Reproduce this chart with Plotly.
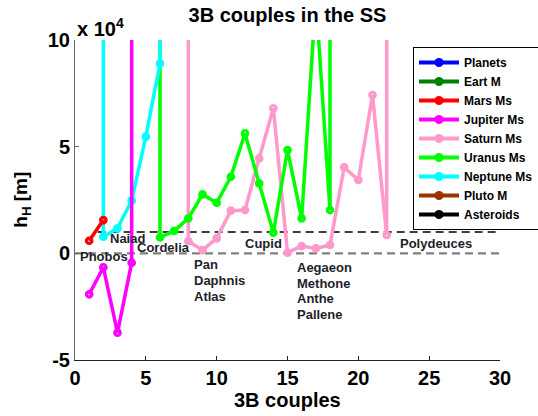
import plotly.graph_objects as go

# h_H values in metres for each three-body couple index; OFF marks couples whose
# h_H is far above the plotted range (the planet-scale entries).
OFF = 1.0e9

mars_x = [1, 2]
mars_h = [5900, 15600]

jupiter_x = [1, 2, 3, 4, 5]
jupiter_h = [-19200, -6600, -37200, -4400, OFF]

saturn_x = [7, 8, 9, 10, 11, 12, 13, 14, 15, 16, 17, 18, 19, 20, 21, 22, 23]
saturn_h = [OFF, 5700, 1500, 7000, 20000, 20300, 44500, 68000, 300, 3400,
            2300, 3900, 40300, 34400, 74200, 8600, OFF]

uranus_x = [5, 6, 7, 8, 9, 10, 11, 12, 13, 14, 15, 16, 17, 18, 19]
uranus_h = [OFF, 7500, 10500, 16400, 27600, 23700, 35900, 56200, 32800,
            9700, 48400, 16400, 120000, 20300, OFF]

neptune_x = [1, 2, 3, 4, 5, 6, 7]
neptune_h = [OFF, 7800, 11700, 24700, 54700, 89000, OFF]

legend_names = ["Planets", "Eart M", "Mars Ms", "Jupiter Ms", "Saturn Ms",
                "Uranus Ms", "Neptune Ms", "Pluto M", "Asteroids"]
legend_colors = ["#0000ff", "#008000", "#ff0000", "#ff00ff", "#ff99cc",
                 "#00ff00", "#00ffff", "#993300", "#000000"]
color_of = dict(zip(legend_names, legend_colors))

threshold_x = [1.6, 30]
threshold_h = [10000, 10000]
zero_x = [0, 30]
zero_h = [0, 0]

SCALE = 1.0e4  # axis shows values in units of 10^4 m

FONT = "Liberation Sans, Arial, sans-serif"

fig = go.Figure()

# reference levels
fig.add_trace(go.Scatter(x=zero_x, y=[v / SCALE for v in zero_h], mode="lines",
                         line=dict(color="#808080", width=2.2, dash="8px,5px"),
                         showlegend=False, hoverinfo="skip"))
fig.add_trace(go.Scatter(x=threshold_x, y=[v / SCALE for v in threshold_h], mode="lines",
                         line=dict(color="#000000", width=1.5, dash="8px,5px"),
                         showlegend=False, hoverinfo="skip"))

series = [
    ("Saturn Ms", saturn_x, saturn_h),
    ("Uranus Ms", uranus_x, uranus_h),
    ("Neptune Ms", neptune_x, neptune_h),
    ("Jupiter Ms", jupiter_x, jupiter_h),
    ("Mars Ms", mars_x, mars_h),
]
for name, xs, hs in series:
    c = color_of[name]
    fig.add_trace(go.Scatter(
        x=xs, y=[v / SCALE for v in hs], mode="lines+markers", name=name,
        line=dict(color=c, width=3.5),
        marker=dict(symbol="circle-open", size=5.5, color=c, line=dict(color=c, width=3.2)),
        showlegend=False))

# legend entries
for name, c in zip(legend_names, legend_colors):
    fig.add_trace(go.Scatter(
        x=[None], y=[None], mode="lines+markers", name=name,
        line=dict(color=c, width=4),
        marker=dict(symbol="circle", size=9, color=c)))

# moon labels
labels = [
    ("Phobos", 0.2, -0.16),
    ("Naiad", 2.33, 0.70),
    ("Cordelia", 4.23, 0.26),
    ("Pan", 8.24, -0.52),
    ("Daphnis", 8.24, -1.28),
    ("Atlas", 8.24, -2.02),
    ("Cupid", 11.88, 0.47),
    ("Aegaeon", 15.53, -0.67),
    ("Methone", 15.53, -1.40),
    ("Anthe", 15.53, -2.14),
    ("Pallene", 15.53, -2.86),
    ("Polydeuces", 22.78, 0.47),
]
annotations = []
for text, lx, ly in labels:
    annotations.append(dict(
        x=lx, y=ly, xref="x", yref="y", text=text, showarrow=False,
        xanchor="left", yanchor="middle",
        font=dict(family=FONT, size=13, color="#1e1e2a", weight="bold")))

annotations.append(dict(
    x=0, y=1.0406, xref="paper", yref="paper", text="x 10<sup>4</sup>",
    showarrow=False, xanchor="left", yanchor="middle",
    font=dict(family=FONT, size=20, color="#000000", weight="bold")))
annotations.append(dict(
    x=-0.1254, y=0.5, xref="paper", yref="paper", text="h<sub>H</sub> [m]",
    textangle=-90, showarrow=False, xanchor="center", yanchor="middle",
    font=dict(family=FONT, size=19, color="#000000", weight="bold")))
annotations.append(dict(
    x=0.5, y=-0.125, xref="paper", yref="paper", text="3B couples",
    showarrow=False, xanchor="center", yanchor="middle",
    font=dict(family=FONT, size=20, color="#000000", weight="bold")))

fig.update_layout(
    width=538, height=416,
    margin=dict(l=75, r=38, t=40, b=56, autoexpand=False),
    paper_bgcolor="white", plot_bgcolor="white",
    title=dict(text="3B couples in the SS", x=0.5, xref="paper", xanchor="center",
               y=1 - 15 / 416, yref="container", yanchor="middle",
               font=dict(family=FONT, size=20, color="#000000", weight="bold")),
    xaxis=dict(range=[0, 30], tickvals=[0, 5, 10, 15, 20, 25, 30],
               ticks="inside", ticklen=4, tickcolor="#222222", tickwidth=1,
               showline=True, linecolor="#222222", linewidth=1,
               showgrid=False, zeroline=False,
               tickfont=dict(family=FONT, size=20, color="#000000", weight="bold")),
    yaxis=dict(range=[-5, 10], tickvals=[-5, 0, 5, 10], ticktext=["-5", "0", "5", "10"],
               ticks="inside", ticklen=4, tickcolor="#666666", tickwidth=1,
               showline=True, linecolor="#666666", linewidth=1,
               showgrid=False, zeroline=False,
               tickfont=dict(family=FONT, size=20, color="#000000", weight="bold")),
    legend=dict(x=0.7953, y=0.978, xanchor="left", yanchor="top",
                bgcolor="white", bordercolor="#000000", borderwidth=1,
                itemwidth=40, tracegroupgap=0,
                font=dict(family=FONT, size=12, color="#000000", weight="bold")),
    annotations=annotations,
    showlegend=True,
)

fig.write_html("out.html")
